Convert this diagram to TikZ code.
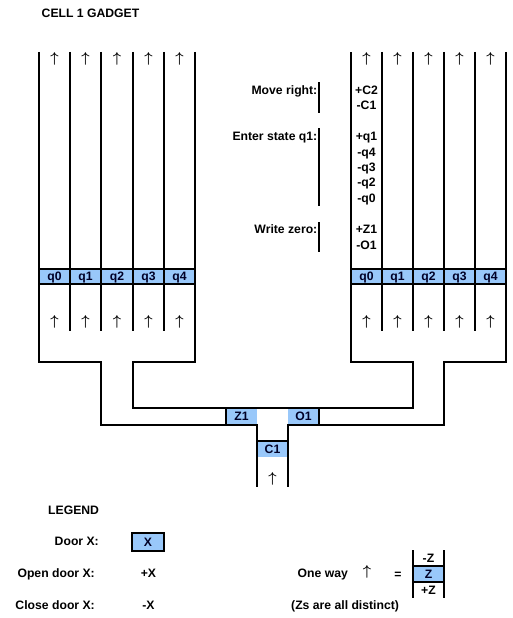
\documentclass[tikz,border=0pt]{standalone}
\usepackage{fontspec}
\setmainfont{Liberation Sans}
\usepackage{tikz}
\usetikzlibrary{positioning, calc}
\definecolor{cDoor}{HTML}{99C8FA}
\definecolor{cWall}{HTML}{000000}

\begin{document}
\begin{tikzpicture}[x=1pt, y=-1pt, font=\fontsize{12.2}{14}\selectfont\bfseries,
    wall/.style={cWall, line width=2pt, line cap=rect},
    walls/.style={wall, line cap=butt, line join=miter},
    door/.style={fill=cDoor, text=black!85!blue, minimum width=31pt, minimum height=15pt, inner sep=0pt, text height=8.8pt, text depth=0pt},
    lbl/.style={anchor=east, inner sep=0pt, text height=8.8pt, text depth=0pt},
    cmd/.style={inner sep=0pt, text height=8.8pt, text depth=0pt},
    head/.style={anchor=west, inner sep=0pt, text height=8.8pt, text depth=0pt},
    oneway/.style={font=\fontsize{14.5}{15}\selectfont\boldmath, inner sep=0pt}]
  \useasboundingbox (0,0) rectangle (512,618);
  \node[head] (title) at (41.5,13.5) {CELL 1 GADGET};

  % the two banks of channels
  \foreach \name/\xa/\st in {L/39/31.2, R/351/31}{
    \foreach \i [evaluate=\i as \xl using {\xa+round(\st*\i)}, evaluate=\i as \xr using {\xa+round(\st*(\i+1))}] in {0,...,4}{
      \node[door, minimum width={\xr-\xl}] (d\name\i) at ({(\xl+\xr)/2},276.5) {q\i};
      \node[oneway] (up\name\i) at ({(\xl+\xr)/2},58.5) {$\uparrow$};
      \node[oneway] (lo\name\i) at ({(\xl+\xr)/2},322) {$\uparrow$};
      \ifnum\i>0 \draw[walls] (\xl,52) -- (\xl,331); \fi
    }
    \draw[wall] (d\name0.north west) -- (d\name4.north east);
    \draw[wall] (d\name0.south west) -- (d\name4.south east);
  }

  % doors in the bottom part
  \node[door, minimum height=17pt] (dZ) at (241.5,416.5) {Z1};
  \node[door, minimum height=17pt] (dO) at (303.5,416.5) {O1};
  \node[door, minimum height=16pt] (dC) at (272.5,449) {C1};
  \node[oneway] (upC) at (272.5,478.5) {$\uparrow$};

  % outer walls
  \draw[walls] (39,52) -- (39,362) -- (101,362) -- (101,425) -- (257,425) -- (257,487);
  \draw[walls] (195,52) -- (195,362) -- (133,362) -- (133,408) -- (413,408) -- (413,362) -- (351,362) -- (351,52);
  \draw[walls] (506,52) -- (506,362) -- (444,362) -- (444,425) -- (288,425) -- (288,487);
  \draw[wall] (dZ.north west) -- (dZ.south west);
  \draw[wall] (dO.north east) -- (dO.south east);
  \draw[wall] (dC.north west) -- (dC.north east);

  % what the first channel does
  \node[lbl] (mv) at (317.5,90) {Move right:};
  \node[lbl] (en) at (317.5,136) {Enter state q1:};
  \node[lbl] (wr) at (317.5,229.5) {Write zero:};
  \draw[walls] (319,82) -- (319,113);
  \draw[walls] (319,128) -- (319,206);
  \draw[walls] (319,222) -- (319,252);
  \foreach \t/\y in {+C2/90, -C1/105.5, +q1/136.5, -q4/152, -q3/167, -q2/182, -q0/198, +Z1/229.5, -O1/245}{
    \node[cmd] (c\t) at (366.5,\y) {\t};
  }

  % legend
  \node[head] (leg) at (48,510) {LEGEND};
  \node[lbl] (ldoor) at (99,541) {Door X:};
  \node[door, draw=cWall, line width=2pt, minimum width=32pt, minimum height=18pt] (lX) at (148,542) {X};
  \node[lbl] (lopen) at (95,573) {Open door X:};
  \node[cmd] (lp) at (148.5,573.5) {+X};
  \node[lbl] (lclose) at (95,605) {Close door X:};
  \node[cmd] (lm) at (148.5,605.5) {-X};

  \node[head] (lway) at (297.5,573.5) {One way};
  \node[oneway] (lup) at (367,572) {$\uparrow$};
  \node[cmd] (leq) at (398,574) {=};
  \node[door, minimum height=16pt] (lZ) at (428.5,574) {Z};
  \node[cmd] (lzm) at (428.5,558) {-Z};
  \node[cmd] (lzp) at (428.5,590) {+Z};
  \draw[walls] (413,550) -- (413,598);
  \draw[walls] (444,550) -- (444,598);
  \draw[wall] (lZ.north west) -- (lZ.north east);
  \draw[wall] (lZ.south west) -- (lZ.south east);
  \node[head] (dist) at (291,605.5) {(Zs are all distinct)};
\end{tikzpicture}
\end{document}
